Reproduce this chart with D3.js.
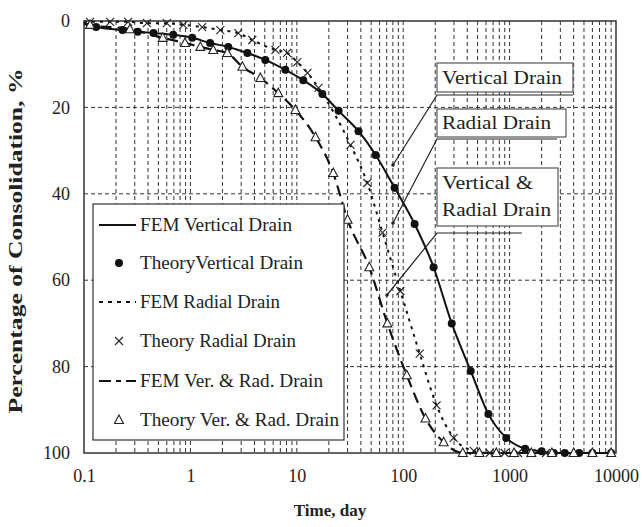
<!DOCTYPE html>
<html>
<head>
<meta charset="utf-8">
<script src="https://d3js.org/d3.v7.min.js"></script>
<style>
  body { margin: 0; background: #fff; }
  text { font-family: "Liberation Serif", "Times New Roman", serif; fill: #222; }
  .grid line { stroke: #333; stroke-width: 1; stroke-dasharray: 4,3; }
</style>
</head>
<body>
<svg width="642" height="527"></svg>
<script>
// theory, vertical drain (time in days, consolidation %)
var vertT = [0.13,0.23,0.32,0.45,0.69,1.04,1.53,2.27,3.43,5.06,7.8,11.5,17.4,24.7,38,55,83,128,193,286,431,632,930,1400,2000,2600,3300,4500,6000,9000];
var vertU = [1.4,2.1,2.5,2.8,3.2,3.9,5.1,6.0,7.4,9.0,11.3,13.7,16.9,20.8,25.5,31,38.6,47,57,70,81,91,96.5,99,99.6,100,100,100,100,100];
// theory, radial drain
var radT = [0.114,0.176,0.26,0.39,0.6,0.86,1.29,1.91,2.82,3.82,6.3,8.1,10.1,12.6,16,32,46,64,94,143,206,298,460,650,900,1200,1600,2200];
var radU = [0.2,0.2,0.2,0.5,0.5,0.9,1.4,2.1,2.8,4.4,6.7,7.4,9.5,12,15.5,28.7,37.5,49,62.5,77,89,96.5,99.5,100,100,100,100,100];
// theory, vertical & radial drain
var vrT = [0.114,0.27,0.55,0.89,1.24,1.64,2.22,3.08,4.54,6.7,9.7,15,22,30,48,71,108,162,240,363,520,750,1100,1600,2500,4000,6000,9000];
var vrU = [0.9,1.9,3.9,5.1,6.0,6.7,7.4,10.6,13.2,16.7,20.6,26.9,35.2,46,57,70,82,92,97.5,100,100,100,100,100,100,100,100,100];
var xTicks = [0.1,1,10,100,1000,10000];
var yTicks = [0,20,40,60,80,100];
var legendNames = ["FEM Vertical Drain","TheoryVertical Drain","FEM Radial Drain","Theory Radial Drain","FEM Ver. & Rad. Drain","Theory Ver. & Rad. Drain"];

var svg = d3.select("svg");
var pL = 84, pR = 616, pT = 21, pB = 453;
var x = d3.scaleLog().domain([0.1, 10000]).range([pL, pR]);
var y = d3.scaleLinear().domain([0, 100]).range([pT, pB]);

// vertical grid at every log tick
var minor = [];
for (var d = 0.1; d < 10000; d *= 10) for (var k = 1; k < 10; k++) minor.push(d * k);
svg.append("g").attr("class", "grid").selectAll("line").data(minor.slice(1)).join("line")
  .attr("x1", d => x(d)).attr("x2", d => x(d)).attr("y1", pT).attr("y2", pB);
svg.append("g").attr("class", "grid").selectAll("line").data([20,40,60,80]).join("line")
  .attr("x1", pL).attr("x2", pR).attr("y1", d => y(d)).attr("y2", d => y(d));

svg.append("rect").attr("x", pL).attr("y", pT).attr("width", pR - pL).attr("height", pB - pT)
  .attr("fill", "none").attr("stroke", "#333").attr("stroke-width", 1.5);

var xAxis = svg.append("g").attr("transform", `translate(0,${pB})`)
  .call(d3.axisBottom(x).tickValues(xTicks).tickFormat(d => String(d)).tickSize(0).tickPadding(16));
var yAxis = svg.append("g").attr("transform", `translate(${pL},0)`)
  .call(d3.axisLeft(y).tickValues(yTicks).tickSize(0).tickPadding(14));
[xAxis, yAxis].forEach(a => {
  a.select(".domain").remove();
  a.selectAll("text").attr("font-size", 18).style("font-family", "Liberation Serif").attr("fill", "#222");
});

svg.append("text").attr("x", 330).attr("y", 516).attr("text-anchor", "middle")
  .attr("font-size", 17).attr("font-weight", "bold").text("Time, day");
svg.append("text").attr("transform", "translate(22,241) rotate(-90)").attr("text-anchor", "middle")
  .attr("font-size", 18).attr("font-weight", "bold")
  .attr("textLength", 345).attr("lengthAdjust", "spacingAndGlyphs").text("Percentage of Consolidation, %");

function pts(T, U) { return T.map((t, i) => [t, U[i]]); }
var line = d3.line().x(d => x(d[0])).y(d => y(d[1])).curve(d3.curveMonotoneX);
var series = [
  { data: pts(vertT, vertU), dash: null, w: 2 },
  { data: pts(radT, radU), dash: "3,5", w: 2 },
  { data: pts(vrT, vrU), dash: "11,6", w: 2.2 }
];
series.forEach(s => {
  svg.append("path").datum([[0.1, s.data[0][1] * 0.5]].concat(s.data)).attr("d", line)
    .attr("fill", "none").attr("stroke", "#111").attr("stroke-width", s.w)
    .attr("stroke-dasharray", s.dash);
});

function dot(g, cx, cy) { g.append("circle").attr("cx", cx).attr("cy", cy).attr("r", 4).attr("fill", "#111"); }
function cross(g, cx, cy) { g.append("path").attr("d", `M${cx-4},${cy-4}L${cx+4},${cy+4}M${cx-4},${cy+4}L${cx+4},${cy-4}`).attr("stroke", "#222").attr("stroke-width", 1.1); }
function tri(g, cx, cy) { g.append("path").attr("d", `M${cx},${cy-5}L${cx+4.5},${cy+3.5}L${cx-4.5},${cy+3.5}Z`).attr("fill", "#fff").attr("stroke", "#222").attr("stroke-width", 1.1); }

var mk = svg.append("g");
vertT.forEach((t, i) => dot(mk, x(t), y(vertU[i])));
radT.forEach((t, i) => cross(mk, x(t), y(radU[i])));
vrT.forEach((t, i) => tri(mk, x(t), y(vrU[i])));

// legend
var lg = svg.append("g");
lg.append("rect").attr("x", 93).attr("y", 204).attr("width", 251).attr("height", 236)
  .attr("fill", "#fff").attr("stroke", "#333").attr("stroke-width", 1.2);
var ly = [225, 263, 302, 341, 381, 420];
var lw = [152, 163, 140, 156, 183, 199];
var legDash = [null, null, "4,5", null, "12,5,5,5", null];
legendNames.forEach((n, i) => {
  var yy = ly[i];
  if (i % 2 === 0) {
    lg.append("line").attr("x1", 99).attr("x2", 136).attr("y1", yy).attr("y2", yy)
      .attr("stroke", "#111").attr("stroke-width", 2).attr("stroke-dasharray", legDash[i]);
  } else if (i === 1) dot(lg, 119, yy);
  else if (i === 3) cross(lg, 119, yy);
  else tri(lg, 119, yy);
  lg.append("text").attr("x", 140).attr("y", yy + 6).attr("font-size", 18)
    .attr("textLength", lw[i]).attr("lengthAdjust", "spacingAndGlyphs").text(n);
});

// callouts
var callouts = [
  { box: [437, 63, 136, 29], lines: ["Vertical Drain"], base: [84], lens: [120], lineY: 95, lineEnd: 573 },
  { box: [437, 109, 129, 28], lines: ["Radial Drain"], base: [129], lens: [109], lineY: 139, lineEnd: 557 },
  { box: [437, 168, 121, 58], lines: ["Vertical &", "Radial Drain"], base: [189, 216], lens: [91, 109], lineY: 233, lineEnd: 522 }
];
var tipPts = [[393, 165], [393, 223], [387, 295]];
callouts.forEach((c, i) => {
  svg.append("rect").attr("x", c.box[0]).attr("y", c.box[1]).attr("width", c.box[2]).attr("height", c.box[3])
    .attr("fill", "#fff").attr("stroke", "#555").attr("stroke-width", 1.2);
  c.lines.forEach((t, j) => svg.append("text").attr("x", c.box[0] + 5).attr("y", c.base[j])
    .attr("font-size", 19).attr("textLength", c.lens[j]).attr("lengthAdjust", "spacingAndGlyphs").text(t));
  svg.append("path").attr("d", `M${c.lineEnd},${c.lineY}L${c.box[0]},${c.lineY}L${tipPts[i][0]},${tipPts[i][1]}`)
    .attr("fill", "none").attr("stroke", "#222").attr("stroke-width", 1.2);
  svg.append("circle").attr("cx", tipPts[i][0]).attr("cy", tipPts[i][1]).attr("r", 1.8).attr("fill", "#222");
});
</script>
</body>
</html>
